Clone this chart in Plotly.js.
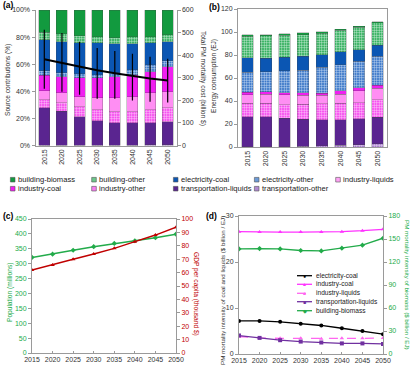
<!DOCTYPE html>
<html>
<head>
<meta charset="utf-8">
<script src="https://cdn.plot.ly/plotly-3.0.1.min.js"></script>
<style>
  html, body { margin: 0; padding: 0; background: #fff; }
  #chart { width: 413px; height: 365px; }
</style>
</head>
<body>
<div id="chart"></div>
<script>
// ---- data ----
const years = ["2015", "2020", "2025", "2030", "2035", "2040", "2045", "2050"];
const lineYears = [2015, 2020, 2025, 2030, 2035, 2040, 2045, 2050];

// (a) source contributions to PM mortality (%)
const transOtherA = [0.1, 0.1, 0.1, 0.2, 0.3, 0.3, 0.4, 0.5];
const transLiqA = [27.9, 25.0, 21.3, 18.2, 16.6, 16.6, 16.5, 17.1];
const indOtherA = [5.8, 6.6, 7.3, 8.1, 8.1, 8.1, 9.6, 10.3];
const indLiqA = [6.6, 7.4, 7.4, 8.8, 10.3, 11.0, 12.5, 11.8];
const indCoalA = [11.4, 11.7, 14.0, 14.7, 15.4, 16.2, 15.4, 18.4];
const elecOtherA = [3.3, 3.0, 2.9, 2.2, 3.0, 3.7, 5.2, 4.4];
const elecCoalA = [22.8, 22.8, 22.8, 23.5, 21.3, 19.1, 16.1, 14.0];
const bldgOtherA = [5.6, 5.9, 5.2, 4.4, 4.4, 5.1, 4.4, 5.1];
const bldgBioA = [16.5, 17.5, 19.0, 19.9, 20.6, 19.9, 19.9, 18.4];

// total PM mortality cost (billion $) with range
const mortCost = [382, 365, 350, 333, 320, 308, 297, 288];
const mortHigh = [512, 498, 459, 432, 419, 406, 393, 384];
const mortLow = [251, 238, 225, 207, 207, 199, 194, 190];

// (b) energy consumption (EJ)
const transOtherB = [0.2, 0.2, 0.3, 0.6, 1.0, 1.5, 2.0, 3.0];
const transLiqB = [26.3, 26.1, 24.7, 23.4, 22.5, 22.0, 22.5, 23.0];
const indOtherB = [11.7, 11.7, 11.6, 13.0, 14.0, 14.5, 14.0, 15.0];
const indLiqB = [7.2, 7.8, 8.7, 8.0, 7.3, 8.0, 10.5, 9.9];
const indCoalB = [2.0, 2.3, 2.0, 2.0, 2.0, 3.0, 2.5, 2.8];
const elecOtherB = [17.8, 17.5, 19.2, 19.8, 22.5, 22.6, 23.0, 25.4];
const elecCoalB = [12.3, 11.7, 11.7, 12.3, 11.0, 11.1, 10.0, 9.3];
const bldgOtherB = [18.8, 19.5, 19.0, 18.5, 18.8, 18.7, 19.7, 19.7];
const bldgBioB = [1.5, 1.0, 1.2, 1.7, 1.0, 0.8, 1.0, 0.8];

// (c) population and GDP per capita
const population = [321, 332, 345, 357, 368, 377, 387, 399];
const gdpPerCap = [62, 65.7, 69.9, 73.9, 78.1, 83.1, 88, 93.8];

// (d) PM mortality intensity
const intElecCoal = [7.2, 7.2, 7.0, 6.6, 6.2, 5.6, 5.0, 4.3];
const intIndCoal = [26.6, 26.5, 26.5, 26.5, 26.5, 26.6, 26.8, 27.1];
const intIndLiq = [3.8, 3.5, 3.4, 3.4, 3.3, 3.4, 3.4, 3.5];
const intTransLiq = [4.0, 3.5, 3.0, 2.7, 2.5, 2.3, 2.3, 2.2];
const intBldgBio = [137, 137.5, 137, 135, 134.5, 138, 142, 151];

// ---- helpers ----
const W = 413, H = 365;
const px = (x) => x / W;
const py = (y) => 1 - y / H;
const FONT = "Liberation Sans, Arial, sans-serif";
const GREEN = "#22ab4a";
const RED = "#c00000";
const AXC = "#9a9a9a";

// stack order bottom -> top
const sources = [
  { name: "transportation-other", a: transOtherA, b: transOtherB, color: "#a57cc9", fg: "#efe4f8", icon: "#b08ad0" },
  { name: "transportation-liquids", a: transLiqA, b: transLiqB, color: "#5a2590", icon: "#5a2590" },
  { name: "industry-other", a: indOtherA, b: indOtherB, color: "#f550ee", fg: "#ffd6fb", icon: "#f77ef0" },
  { name: "industry-liquids", a: indLiqA, b: indLiqB, color: "#ff8ef3", icon: "#ffa2f5" },
  { name: "industry-coal", a: indCoalA, b: indCoalB, color: "#f01ff0", icon: "#f01ff0" },
  { name: "electricity-other", a: elecOtherA, b: elecOtherB, color: "#3d78c8", fg: "#cfe0f5", icon: "#6c9ad6" },
  { name: "electricity-coal", a: elecCoalA, b: elecCoalB, color: "#0b56b3", icon: "#0b56b3" },
  { name: "building-other", a: bldgOtherA, b: bldgOtherB, color: "#35b060", fg: "#d6f0de", icon: "#6cc68a" },
  { name: "building-biomass", a: bldgBioA, b: bldgBioB, color: "#129a3f", icon: "#129a3f" },
];

const traces = [];
sources.forEach((s) => {
  const marker = { color: s.color, line: { color: "rgba(70,70,70,0.55)", width: 0.5 } };
  if (s.fg) marker.pattern = { shape: "+", size: 2.5, solidity: 0.35, fgcolor: s.fg, bgcolor: s.color };
  traces.push({ type: "bar", x: years, y: s.a, name: s.name, marker, xaxis: "x", yaxis: "y", hoverinfo: "name+y" });
  traces.push({ type: "bar", x: years, y: s.b, name: s.name, marker, xaxis: "x2", yaxis: "y3", hoverinfo: "name+y" });
});

traces.push({
  type: "scatter",
  mode: "lines",
  x: years,
  y: mortCost,
  name: "Total PM mortality cost",
  line: { color: "#000", width: 2 },
  error_y: {
    type: "data",
    symmetric: false,
    array: mortHigh.map((v, i) => v - mortCost[i]),
    arrayminus: mortCost.map((v, i) => v - mortLow[i]),
    color: "#000",
    thickness: 1.2,
    width: 0,
  },
  xaxis: "x",
  yaxis: "y2",
});

// (c)
traces.push({
  type: "scatter", mode: "lines+markers", x: lineYears, y: population, name: "Population",
  line: { color: GREEN, width: 1.5 }, marker: { symbol: "diamond", size: 4, color: GREEN },
  xaxis: "x3", yaxis: "y4",
});
traces.push({
  type: "scatter", mode: "lines+markers", x: lineYears, y: gdpPerCap, name: "GDP per capita",
  line: { color: RED, width: 1.5 }, marker: { symbol: "triangle-up", size: 4, color: RED },
  xaxis: "x3", yaxis: "y5",
});

// (d)
const dSeries = [
  { name: "electricity-coal", y: intElecCoal, color: "#000", sym: "circle", ch: "●", dash: "solid", ax: "y6" },
  { name: "industry-coal", y: intIndCoal, color: "#ff33ff", sym: "triangle-up", ch: "▲", dash: "solid", ax: "y6" },
  { name: "industry-liquids", y: intIndLiq, color: "#ff66f0", sym: "triangle-up", ch: "▲", dash: "dash", ax: "y6" },
  { name: "transportation-liquids", y: intTransLiq, color: "#7030a0", sym: "square", ch: "■", dash: "solid", ax: "y6" },
  { name: "building-biomass", y: intBldgBio, color: GREEN, sym: "diamond", ch: "◆", dash: "solid", ax: "y7" },
];
dSeries.forEach((s) => {
  traces.push({
    type: "scatter", mode: "lines+markers", x: lineYears, y: s.y, name: s.name,
    line: { color: s.color, width: 1.3, dash: s.dash },
    marker: { symbol: s.sym, size: 4, color: s.color },
    xaxis: "x4", yaxis: s.ax,
  });
});

// ---- axes ----
const tickfont = { family: FONT, size: 7, color: "#333" };
const baseAxis = {
  showgrid: false, zeroline: false, showline: true, linecolor: AXC, linewidth: 1,
  ticks: "outside", ticklen: 3, tickcolor: AXC, tickfont,
};
const catX = (domain, anchor, mirror) => ({
  ...baseAxis, type: "category", domain, anchor, tickangle: -90, ticks: "", mirror,
});
const yearX = (domain, anchor) => ({
  ...baseAxis, domain, anchor, range: [2015, 2050], tick0: 2015, dtick: 5, mirror: true,
  ticks: "inside", ticklen: 2,
});

// ---- annotations and legend ----
const ann = [];
const text = (x, y, t, opts = {}) =>
  ann.push({
    xref: "paper", yref: "paper", x: px(x), y: py(y), text: t, showarrow: false,
    xanchor: opts.xanchor || "center", yanchor: "middle", textangle: opts.angle || 0,
    font: { family: FONT, size: opts.size || 6.6, color: opts.color || "#333" },
  });

text(1, 5, "<b>(a)</b>", { xanchor: "left", size: 8.5, color: "#000" });
text(207, 7, "<b>(b)</b>", { xanchor: "left", size: 8.5, color: "#000" });
text(1, 216, "<b>(c)</b>", { xanchor: "left", size: 8.5, color: "#000" });
text(204, 216, "<b>(d)</b>", { xanchor: "left", size: 8.5, color: "#000" });

text(8, 80, "Source contributions (%)", { angle: -90 });
text(203, 78, "Total PM mortality cost (billion $)", { angle: 90 });
text(214, 76, "Energy consumption (EJ)", { angle: -90 });
text(10, 293, "Population (millions)", { angle: -90, color: GREEN });
text(196, 294, "GDP per capita (thousand $)", { angle: 90, color: RED });
text(222, 290, "PM mortality intensity of coal and liquids ($ billion / EJ)", { angle: -90, size: 6.2 });
text(408, 285, "PM mortality intensity of biomass ($ billion / EJ)", { angle: 90, size: 6.2, color: GREEN });

const shapes = [];
// bar legend, 5 columns x 2 rows
const legendOrder = [
  "building-biomass", "building-other", "electricity-coal", "electricity-other", "industry-liquids",
  "industry-coal", "industry-other", "transportation-liquids", "transportation-other",
];
const colX = [12.7, 94, 175.7, 256.7, 338];
const rowY = [179.7, 188.7];
legendOrder.forEach((nm, i) => {
  const s = sources.find((d) => d.name === nm);
  const cx = colX[i % 5], cy = rowY[Math.floor(i / 5)];
  shapes.push({
    type: "rect", xref: "paper", yref: "paper",
    x0: px(cx - 2.3), x1: px(cx + 2.3), y0: py(cy + 2.3), y1: py(cy - 2.3),
    fillcolor: s.icon, line: { color: "#555", width: 0.6 },
  });
  text(cx + 3.2, cy, nm, { xanchor: "left", size: 7.6, color: "#222" });
});

// line legend inside (d)
const dRows = [275.7, 284.3, 293.3, 301.7, 310.7];
dSeries.forEach((s, i) => {
  const y = dRows[i];
  shapes.push({
    type: "line", xref: "paper", yref: "paper", x0: px(297), x1: px(312), y0: py(y), y1: py(y),
    line: { color: s.color, width: 1.3, dash: s.dash === "dash" ? "dash" : "solid" },
  });
  text(304.5, y, s.ch, { size: 5, color: s.color });
  text(313.5, y, s.name, { xanchor: "left", size: 6.6, color: "#222" });
});

const layout = {
  width: W,
  height: H,
  margin: { l: 0, r: 0, t: 0, b: 0 },
  paper_bgcolor: "#fff",
  plot_bgcolor: "#fff",
  showlegend: false,
  barmode: "stack",
  bargap: 0.38,
  font: { family: FONT, size: 7, color: "#333" },
  xaxis: catX([px(35.5), px(176.5)], "y", false),
  yaxis: { ...baseAxis, domain: [py(145.5), py(10)], anchor: "x", range: [0, 100], dtick: 20, ticksuffix: "%" },
  yaxis2: { ...baseAxis, overlaying: "y", side: "right", anchor: "x", range: [0, 600], dtick: 100 },
  xaxis2: catX([px(238), px(387)], "y3", true),
  yaxis3: { ...baseAxis, domain: [py(147), py(9)], anchor: "x2", range: [0, 120], dtick: 20, mirror: true },
  xaxis3: yearX([px(32), px(176)], "y4"),
  yaxis4: {
    ...baseAxis, domain: [py(353), py(219)], anchor: "x3", range: [0, 450], dtick: 50, mirror: true,
    tickfont: { ...tickfont, color: GREEN },
  },
  yaxis5: {
    ...baseAxis, overlaying: "y4", side: "right", anchor: "x3", range: [0, 100], dtick: 10,
    tickfont: { ...tickfont, color: RED },
  },
  xaxis4: yearX([px(239), px(383)], "y6"),
  yaxis6: { ...baseAxis, domain: [py(354), py(216)], anchor: "x4", range: [0, 30], dtick: 10, mirror: true },
  yaxis7: {
    ...baseAxis, overlaying: "y6", side: "right", anchor: "x4", range: [0, 180], dtick: 30,
    tickfont: { ...tickfont, color: GREEN },
  },
  annotations: ann,
  shapes,
};

Plotly.newPlot("chart", traces, layout, { displayModeBar: false, responsive: false });
</script>
</body>
</html>
